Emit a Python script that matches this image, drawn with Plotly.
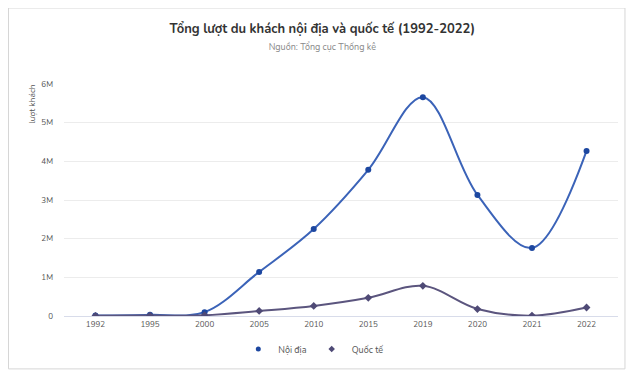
import plotly.graph_objects as go

years = ["1992", "1995", "2000", "2005", "2010", "2015", "2019", "2020", "2021", "2022"]
noi_dia = [10000, 30000, 100000, 1140000, 2250000, 3780000, 5660000, 3130000, 1760000, 4270000]
quoc_te = [5000, 10000, 20000, 130000, 260000, 470000, 780000, 180000, 10000, 220000]

FONT = "Nunito, Lato, 'Noto Sans', sans-serif"
C_ND_LINE, C_ND_MK = "#3b63b8", "#1d47a0"
C_QT_LINE, C_QT_MK = "#5b557e", "#4f4a76"

fig = go.Figure()
fig.add_trace(go.Scatter(
    x=years, y=noi_dia, name="Nội địa", mode="lines+markers", showlegend=False,
    line=dict(color=C_ND_LINE, width=2, shape="spline", smoothing=1.0),
    marker=dict(color=C_ND_MK, size=6, symbol="circle"),
))
fig.add_trace(go.Scatter(
    x=years, y=quoc_te, name="Quốc tế", mode="lines+markers", showlegend=False,
    line=dict(color=C_QT_LINE, width=2, shape="spline", smoothing=1.0),
    marker=dict(color=C_QT_MK, size=6, symbol="diamond"),
))
# legend-only entries (marker symbol only, as in the reference legend)
fig.add_trace(go.Scatter(x=[None], y=[None], name="Nội địa", mode="markers",
                         marker=dict(color=C_ND_MK, size=5, symbol="circle")))
fig.add_trace(go.Scatter(x=[None], y=[None], name="Quốc tế", mode="markers",
                         marker=dict(color=C_QT_MK, size=5, symbol="diamond")))

fig.update_layout(
    width=620, height=362,
    margin=dict(l=56, r=10, t=76, b=54, autoexpand=False),
    paper_bgcolor="white", plot_bgcolor="white",
    font=dict(family=FONT, size=8, color="#444"),
    title=dict(
        text="<b>Tổng lượt du khách nội địa và quốc tế (1992-2022)</b>"
             "<br><span style='font-size:9px;color:#888'>Nguồn: Tổng cục Thống kê</span>",
        x=0.507, xanchor="center", y=0.932, yanchor="top",
        font=dict(family=FONT, size=13, color="#333"),
    ),
    showlegend=True,
    legend=dict(orientation="h", x=0.45, xanchor="center", y=-0.08, yanchor="top",
                itemwidth=30, font=dict(size=9, color="#555")),
    xaxis=dict(type="category", showgrid=False, showline=True, linecolor="#d8dcea",
               linewidth=1, ticks="", tickfont=dict(size=8, color="#555")),
    yaxis=dict(range=[0, 6000000], tickvals=[0, 1e6, 2e6, 3e6, 4e6, 5e6, 6e6],
               ticktext=["0", "1M", "2M", "3M", "4M", "5M", "6M"],
               showgrid=True, gridcolor="#ececec", zeroline=False,
               ticklabelstandoff=10, tickfont=dict(size=8, color="#555")),
    shapes=[dict(type="rect", xref="paper", yref="paper",
                 x0=-0.1002, x1=1.0126, y0=-0.228, y1=1.3276,
                 line=dict(color="#d6d6d6", width=1), fillcolor="rgba(0,0,0,0)", layer="above")],
    annotations=[dict(text="lượt khách", xref="paper", yref="paper",
                      x=-0.058, y=1.009, xanchor="center", yanchor="top",
                      textangle=-90, showarrow=False,
                      font=dict(size=8.5, color="#555"))],
)

fig.write_html("out.html")
